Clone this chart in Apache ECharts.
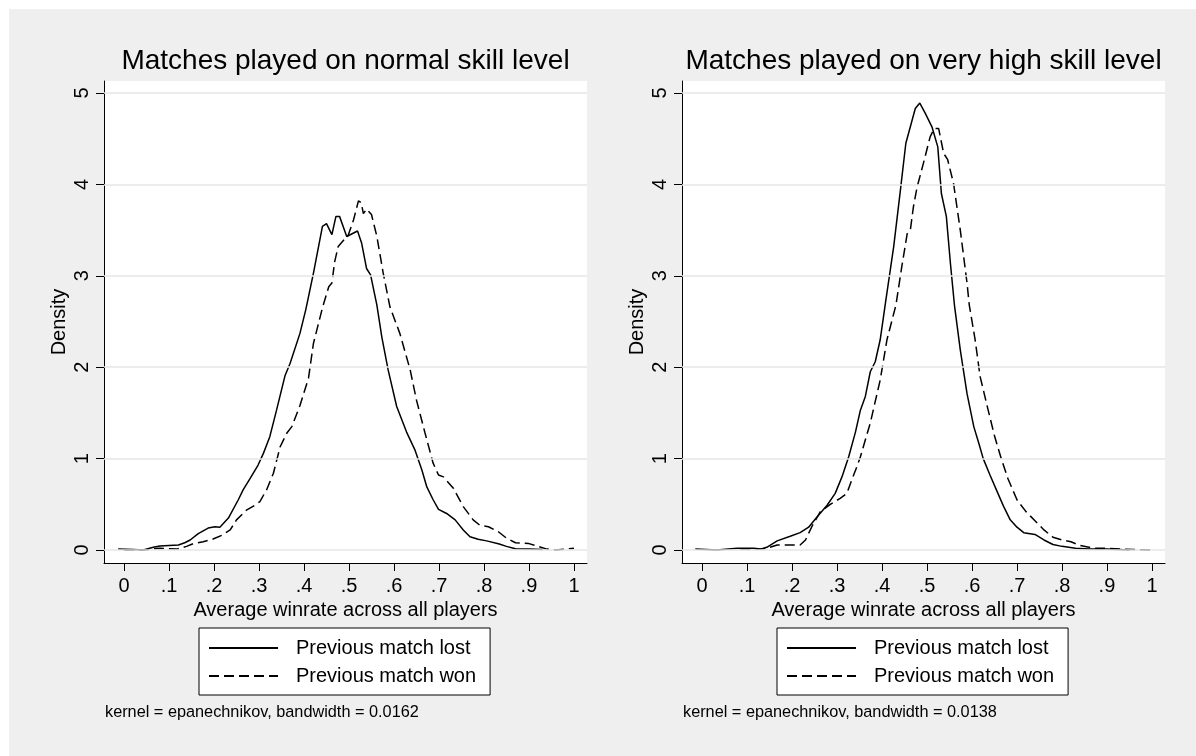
<!DOCTYPE html>
<html>
<head>
<meta charset="utf-8">
<title>Kernel density of average winrate</title>
<script src="https://cdn.jsdelivr.net/npm/echarts@6/dist/echarts.min.js"></script>
<style>
  html, body { margin: 0; padding: 0; background: #fff; }
  #wrap { position: relative; width: 1196px; height: 756px; background: #fff; }
  #panel { position: absolute; left: 9px; top: 9px; right: 0; bottom: 0; background: #efefef; }
  #chart { position: absolute; left: 0; top: 0; width: 1196px; height: 756px; }
</style>
</head>
<body>
<div id="wrap"><div id="panel"></div><div id="chart"></div></div>
<script>
// Tick positions and their printed labels
const xTicks = [0, 0.1, 0.2, 0.3, 0.4, 0.5, 0.6, 0.7, 0.8, 0.9, 1];
const xTickLabels = ['0', '.1', '.2', '.3', '.4', '.5', '.6', '.7', '.8', '.9', '1'];
const yTicks = [0, 1, 2, 3, 4, 5];

const panelTitles = ['Matches played on normal skill level', 'Matches played on very high skill level'];
const seriesNames = ['Previous match lost', 'Previous match won'];
const notes = ['kernel = epanechnikov, bandwidth = 0.0162', 'kernel = epanechnikov, bandwidth = 0.0138'];
const xTitle = 'Average winrate across all players';
const yTitle = 'Density';

// Density estimates, [winrate, density]
const normalLost = [
  [-0.013, 0.01], [0.02, 0.005], [0.043, 0.0], [0.065, 0.03], [0.08, 0.044], [0.1, 0.05],
  [0.121, 0.055], [0.135, 0.08], [0.147, 0.11], [0.165, 0.18], [0.187, 0.24], [0.202, 0.255],
  [0.213, 0.25], [0.232, 0.35], [0.254, 0.55], [0.265, 0.66], [0.28, 0.78], [0.298, 0.93],
  [0.31, 1.06], [0.324, 1.24], [0.339, 1.53], [0.358, 1.91], [0.369, 2.04], [0.391, 2.37],
  [0.404, 2.63], [0.421, 3.03], [0.441, 3.54], [0.45, 3.57], [0.462, 3.45], [0.471, 3.65],
  [0.479, 3.65], [0.495, 3.43], [0.519, 3.49], [0.528, 3.36], [0.539, 3.08], [0.548, 3.01],
  [0.562, 2.68], [0.573, 2.33], [0.587, 1.97], [0.606, 1.57], [0.628, 1.29], [0.647, 1.09],
  [0.662, 0.875], [0.673, 0.69], [0.687, 0.55], [0.699, 0.445], [0.717, 0.40], [0.736, 0.33],
  [0.754, 0.22], [0.769, 0.146], [0.787, 0.117], [0.806, 0.10], [0.834, 0.066], [0.85, 0.04],
  [0.87, 0.015], [0.9, 0.01], [0.93, 0.005]
];
const normalWon = [
  [0.0, 0.0], [0.043, 0.0], [0.08, 0.02], [0.117, 0.01], [0.139, 0.04], [0.154, 0.07],
  [0.176, 0.09], [0.198, 0.12], [0.217, 0.16], [0.236, 0.22], [0.25, 0.33], [0.273, 0.44],
  [0.291, 0.49], [0.302, 0.53], [0.317, 0.66], [0.332, 0.84], [0.347, 1.13], [0.362, 1.28],
  [0.373, 1.35], [0.391, 1.58], [0.41, 1.88], [0.421, 2.26], [0.441, 2.65], [0.455, 2.88],
  [0.462, 2.92], [0.468, 3.15], [0.476, 3.32], [0.49, 3.40], [0.498, 3.44], [0.51, 3.61],
  [0.521, 3.82], [0.527, 3.80], [0.532, 3.68], [0.539, 3.73], [0.55, 3.67], [0.562, 3.43],
  [0.576, 3.03], [0.591, 2.66], [0.613, 2.37], [0.636, 1.97], [0.65, 1.64], [0.669, 1.28],
  [0.687, 0.95], [0.699, 0.82], [0.71, 0.80], [0.732, 0.675], [0.754, 0.475], [0.776, 0.33],
  [0.791, 0.27], [0.81, 0.255], [0.832, 0.20], [0.85, 0.13], [0.87, 0.08], [0.9, 0.07],
  [0.92, 0.04], [0.94, 0.01], [0.96, 0.0], [0.98, 0.01], [1.0, 0.02]
];
const highLost = [
  [-0.015, 0.01], [0.033, 0.0], [0.078, 0.02], [0.115, 0.02], [0.13, 0.01], [0.144, 0.03],
  [0.167, 0.10], [0.196, 0.15], [0.218, 0.19], [0.237, 0.25], [0.256, 0.365], [0.278, 0.49],
  [0.296, 0.62], [0.311, 0.80], [0.326, 1.02], [0.341, 1.29], [0.352, 1.53], [0.363, 1.68],
  [0.374, 1.95], [0.385, 2.06], [0.396, 2.30], [0.407, 2.68], [0.426, 3.32], [0.441, 3.94],
  [0.453, 4.45], [0.463, 4.63], [0.474, 4.83], [0.484, 4.89], [0.496, 4.78], [0.511, 4.63],
  [0.524, 4.41], [0.532, 3.90], [0.543, 3.65], [0.552, 3.14], [0.561, 2.68], [0.574, 2.19],
  [0.589, 1.71], [0.604, 1.35], [0.615, 1.17], [0.625, 1.0], [0.64, 0.82], [0.655, 0.65],
  [0.67, 0.48], [0.685, 0.33], [0.70, 0.25], [0.715, 0.19], [0.74, 0.17], [0.76, 0.11],
  [0.78, 0.06], [0.80, 0.04], [0.83, 0.02], [0.86, 0.01], [0.9, 0.01], [0.95, 0.0]
];
const highWon = [
  [0.085, 0.01], [0.13, 0.01], [0.144, 0.02], [0.167, 0.055], [0.218, 0.055], [0.23, 0.11],
  [0.244, 0.255], [0.263, 0.42], [0.285, 0.50], [0.307, 0.565], [0.322, 0.62], [0.333, 0.77],
  [0.344, 0.91], [0.352, 1.02], [0.374, 1.39], [0.396, 1.86], [0.411, 2.30], [0.431, 2.68],
  [0.444, 3.10], [0.456, 3.46], [0.463, 3.50], [0.47, 3.76], [0.478, 3.97], [0.492, 4.23],
  [0.507, 4.52], [0.516, 4.61], [0.526, 4.61], [0.537, 4.34], [0.546, 4.27], [0.559, 4.01],
  [0.574, 3.50], [0.589, 2.92], [0.594, 2.68], [0.607, 2.30], [0.618, 1.90], [0.635, 1.55],
  [0.65, 1.25], [0.665, 1.0], [0.68, 0.78], [0.70, 0.55], [0.72, 0.42], [0.74, 0.32],
  [0.76, 0.22], [0.78, 0.14], [0.80, 0.11], [0.82, 0.09], [0.84, 0.05], [0.87, 0.02],
  [0.9, 0.02], [0.93, 0.01], [0.96, 0.005], [1.0, 0.0]
];

const FONT = "'Liberation Sans', Arial, Helvetica, sans-serif";
const INK = '#000';
const DASH = [10, 5];

// Panel geometry (pixels)
const panels = [
  { left: 104, top: 81, width: 483, height: 482, lost: normalLost, won: normalWon },
  { left: 682, top: 81, width: 483, height: 482, lost: highLost, won: highWon }
];

function xLabel(v) {
  const i = xTicks.findIndex(t => Math.abs(t - v) < 1e-9);
  return i >= 0 ? xTickLabels[i] : '';
}

const grids = [], xAxes = [], yAxes = [], series = [], legends = [], graphics = [];

panels.forEach((p, k) => {
  grids.push({
    left: p.left, top: p.top, width: p.width, height: p.height,
    show: true, backgroundColor: '#fff', borderWidth: 0,
    containLabel: false, outerBoundsMode: 'none'
  });
  xAxes.push({
    gridIndex: k, type: 'value', min: -0.0445, max: 1.029,
    name: xTitle, nameLocation: 'middle', nameGap: 36,
    nameTextStyle: { fontFamily: FONT, fontSize: 20, color: INK },
    axisLine: { show: true, onZero: false, lineStyle: { color: INK, width: 1 } },
    axisTick: { show: true, customValues: xTicks, length: 8, lineStyle: { color: INK, width: 1 } },
    axisLabel: { show: true, customValues: xTicks, formatter: xLabel, margin: 13,
                 fontFamily: FONT, fontSize: 20, color: INK },
    splitLine: { show: false }
  });
  yAxes.push({
    gridIndex: k, type: 'value', min: -0.142, max: 5.131,
    name: yTitle, nameLocation: 'middle', nameGap: 35, nameRotate: 90,
    nameTextStyle: { fontFamily: FONT, fontSize: 20, color: INK },
    axisLine: { show: true, onZero: false, lineStyle: { color: INK, width: 1 } },
    axisTick: { show: true, customValues: yTicks, length: 8, lineStyle: { color: INK, width: 1 } },
    axisLabel: { show: true, customValues: yTicks, rotate: 90, margin: 12,
                 fontFamily: FONT, fontSize: 20, color: INK },
    splitLine: { show: false }
  });
  // horizontal reference lines at each y tick
  series.push({
    type: 'line', xAxisIndex: k, yAxisIndex: k, data: [], z: 1, silent: true,
    markLine: {
      silent: true, symbol: ['none', 'none'], animation: false,
      label: { show: false },
      lineStyle: { color: '#e6e6e6', width: 1.5, type: 'solid' },
      emphasis: { disabled: true },
      data: yTicks.map(v => ({ yAxis: v }))
    }
  });
  series.push({
    name: seriesNames[0], type: 'line', xAxisIndex: k, yAxisIndex: k, data: p.lost,
    symbol: 'none', showSymbol: false, z: 3,
    lineStyle: { color: INK, width: 1.5, type: 'solid' },
    itemStyle: { color: INK }
  });
  series.push({
    name: seriesNames[1], type: 'line', xAxisIndex: k, yAxisIndex: k, data: p.won,
    symbol: 'none', showSymbol: false, z: 3,
    lineStyle: { color: INK, width: 1.5, type: DASH },
    itemStyle: { color: INK }
  });
  const cx = p.left + p.width / 2;
  legends.push({
    orient: 'vertical', left: cx - 146.5, top: 628,
    padding: [10, 14, 9, 9], itemGap: 8, itemWidth: 69, itemHeight: 20,
    backgroundColor: '#fff', borderColor: INK, borderWidth: 1, borderRadius: 0,
    selectedMode: false,
    itemStyle: { color: 'rgba(0,0,0,0)', borderWidth: 0 },
    textStyle: { fontFamily: FONT, fontSize: 20, color: INK, padding: [0, 0, 0, 13] },
    data: seriesNames
  });
  graphics.push({
    type: 'text', x: cx, y: 61.5, silent: true,
    style: { text: panelTitles[k], fontFamily: FONT, fontSize: 28, fill: INK,
             textAlign: 'center', textVerticalAlign: 'middle' }
  });
  graphics.push({
    type: 'text', x: p.left + 1, y: 713, silent: true,
    style: { text: notes[k], fontFamily: FONT, fontSize: 16.3, fill: INK,
             textAlign: 'left', textVerticalAlign: 'middle' }
  });
});

const chart = echarts.init(document.getElementById('chart'), null, { renderer: 'canvas' });
chart.setOption({
  backgroundColor: 'transparent',
  animation: false,
  grid: grids,
  xAxis: xAxes,
  yAxis: yAxes,
  legend: legends,
  series: series,
  graphic: graphics
});
</script>
</body>
</html>
